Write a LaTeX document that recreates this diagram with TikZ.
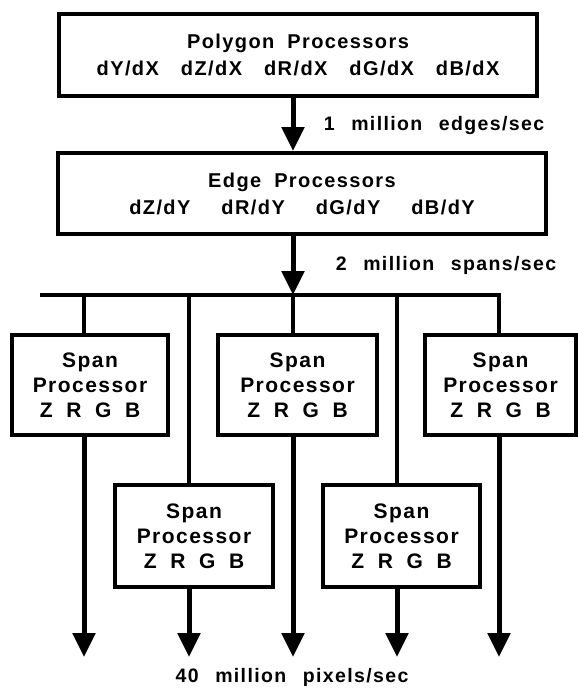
\documentclass[tikz,border=0pt]{standalone}
\usepackage{fontspec}
\setmainfont{Liberation Sans}[LetterSpace=7]
\usepackage{tikz}
\usetikzlibrary{arrows.meta,positioning}

\newcommand{\wgap}{\hspace{0.85em}}
\newcommand{\tgap}{\hspace{0.65em}}
\newcommand{\xgap}{\hspace{1.1em}}
\newcommand{\ygap}{\hspace{1.55em}}

\tikzset{
  procbox/.style={draw, line width=4pt, align=center, inner sep=0pt,
    font=\bfseries\fontsize{21}{25}\selectfont},
  headbox/.style={procbox, font=\bfseries\fontsize{20}{27}\selectfont},
  flow/.style={line width=5pt, -{Triangle[width=22pt,length=24pt]}},
  bus/.style={line width=4.5pt},
  rate/.style={font=\bfseries\fontsize{19.5}{24}\selectfont}
}

\begin{document}
\begin{tikzpicture}[x=1pt,y=-1pt]
      \useasboundingbox (0,0) rectangle (578,689);

      \node[headbox, minimum width=478pt, minimum height=82pt] (poly) at (298,55)
        {Polygon\tgap Processors\\dY/dX\xgap dZ/dX\xgap dR/dX\xgap dG/dX\xgap dB/dX};
      \node[headbox, minimum width=488pt, minimum height=81pt] (edge) at (302,193.5)
        {Edge\tgap Processors\\dZ/dY\ygap dR/dY\ygap dG/dY\ygap dB/dY};

      \node[procbox, minimum width=156pt, minimum height=100pt] (sp1) at (90,385)
        {Span\\Processor\\Z\tgap R\tgap G\tgap B};
      \node[procbox, minimum width=159pt, minimum height=100pt] (sp2) at (297.5,385)
        {Span\\Processor\\Z\tgap R\tgap G\tgap B};
      \node[procbox, minimum width=151pt, minimum height=100pt] (sp3) at (500.5,385)
        {Span\\Processor\\Z\tgap R\tgap G\tgap B};
      \node[procbox, minimum width=158pt, minimum height=102pt] (sp4) at (194,536)
        {Span\\Processor\\Z\tgap R\tgap G\tgap B};
      \node[procbox, minimum width=157pt, minimum height=102pt] (sp5) at (401.5,536)
        {Span\\Processor\\Z\tgap R\tgap G\tgap B};

      \coordinate (busL) at (40,295);
      \foreach \n/\x in {1/84, 2/189, 3/293, 4/397, 5/499} {
        \coordinate (tap\n) at (\x,295);
        \coordinate (out\n) at (\x,657);
      }

      \draw[flow] (poly.south -| tap3) -- (edge.north -| tap3);
      \draw[flow] (edge.south -| tap3) -- (tap3);
      \draw[bus] (busL) -- (tap5) -- (sp3.north -| tap5);

      \foreach \t/\b in {1/sp1, 2/sp4, 3/sp2, 4/sp5} {
        \draw[bus] (tap\t) -- (\b.north -| tap\t);
      }
      \foreach \t/\b in {1/sp1, 2/sp4, 3/sp2, 4/sp5, 5/sp3} {
        \draw[flow] (\b.south -| tap\t) -- (out\t);
      }

      \node[rate] (edgerate) at (434,125) {1\wgap million\wgap edges/sec};
      \node[rate] (spanrate) at (446,265) {2\wgap million\wgap spans/sec};
      \node[rate] (pixelrate) at (292,677) {40\wgap million\wgap pixels/sec};
\end{tikzpicture}
\end{document}
